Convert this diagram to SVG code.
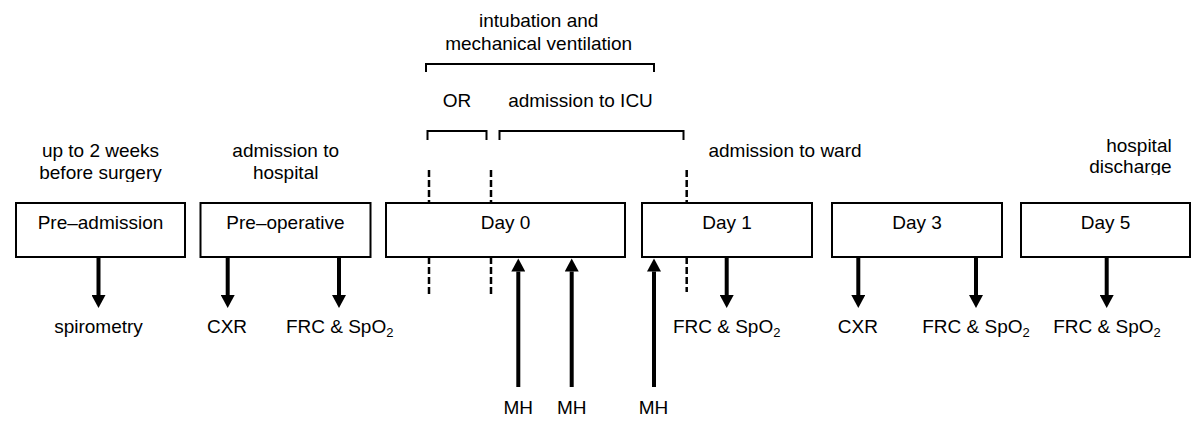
<svg xmlns="http://www.w3.org/2000/svg" width="1200" height="429" viewBox="0 0 1200 429">
<style>
text{font-family:"Liberation Sans",Arial,sans-serif;font-size:19px;fill:#000;text-anchor:middle}
.box{fill:#fff;stroke:#000;stroke-width:2}
.br{fill:none;stroke:#000;stroke-width:2}
.dash{stroke:#000;stroke-width:2.5;stroke-dasharray:7 3}
.arr{stroke:#000;stroke-width:4;fill:none;marker-end:url(#ah)}
.r{text-anchor:end}
</style>
<defs>
<marker id="ah" markerUnits="userSpaceOnUse" markerWidth="14" markerHeight="14" refX="0" refY="7" orient="auto" viewBox="0 0 14 14">
<path d="M0,0 L13,7 L0,14 z" fill="#000"/>
</marker>
<clipPath id="c1"><rect x="0" y="0" width="1200" height="182"/></clipPath>
<clipPath id="c2"><rect x="0" y="0" width="1200" height="175"/></clipPath>
</defs>

<g id="phase-labels">
<text x="538.7" y="27">intubation and</text>
<text x="538.7" y="50">mechanical ventilation</text>
<path class="br" d="M426,72 V64 H654 V72"/>
<text x="457" y="106.5">OR</text>
<text x="580.5" y="106.5">admission to ICU</text>
<path class="br" d="M427.5,140 V131 H486.5 V140"/>
<path class="br" d="M499.5,140 V131 H683.5 V140"/>
<text x="100.5" y="157.3">up to 2 weeks</text>
<text x="100.5" y="179.3" clip-path="url(#c1)">before surgery</text>
<text x="285.7" y="157.3">admission to</text>
<text x="285.7" y="179.3">hospital</text>
<text x="785" y="157.3">admission to ward</text>
<text class="r" x="1171.7" y="151.7">hospital</text>
<text class="r" x="1171.7" y="173.3" clip-path="url(#c2)">discharge</text>
</g>

<g id="markers">
<line class="dash" x1="429" y1="170" x2="429" y2="203"/>
<line class="dash" x1="491" y1="170" x2="491" y2="203"/>
<line class="dash" x1="686.7" y1="170" x2="686.7" y2="203"/>
<line class="dash" x1="429" y1="257" x2="429" y2="294"/>
<line class="dash" x1="491" y1="257" x2="491" y2="294"/>
<line class="dash" x1="686.7" y1="257" x2="686.7" y2="292"/>
</g>

<g id="node-preadmission">
<rect class="box" x="16" y="203" width="169" height="54"/>
<text x="100.5" y="228.5">Pre–admission</text>
</g>
<g id="node-preoperative">
<rect class="box" x="200.5" y="203" width="170" height="54"/>
<text x="285.5" y="228.5">Pre–operative</text>
</g>
<g id="node-day0">
<rect class="box" x="386" y="203" width="239" height="54"/>
<text x="505.5" y="228.5">Day 0</text>
</g>
<g id="node-day1">
<rect class="box" x="642" y="203" width="170" height="54"/>
<text x="727" y="228.5">Day 1</text>
</g>
<g id="node-day3">
<rect class="box" x="832" y="203" width="170" height="54"/>
<text x="917" y="228.5">Day 3</text>
</g>
<g id="node-day5">
<rect class="box" x="1021" y="203" width="169" height="54"/>
<text x="1105.5" y="228.5">Day 5</text>
</g>

<g id="connectors">
<line class="arr" x1="98.5" y1="258" x2="98.5" y2="295"/>
<line class="arr" x1="227.7" y1="258" x2="227.7" y2="295"/>
<line class="arr" x1="339" y1="258" x2="339" y2="295"/>
<line class="arr" x1="726.7" y1="258" x2="726.7" y2="295"/>
<line class="arr" x1="858.3" y1="258" x2="858.3" y2="295"/>
<line class="arr" x1="976" y1="258" x2="976" y2="295"/>
<line class="arr" x1="1106.7" y1="258" x2="1106.7" y2="295"/>
<line class="arr" x1="518.3" y1="387" x2="518.3" y2="271.5"/>
<line class="arr" x1="571.7" y1="387" x2="571.7" y2="271.5"/>
<line class="arr" x1="654" y1="387" x2="654" y2="271.5"/>
</g>

<g id="labels">
<text x="98.5" y="333.3">spirometry</text>
<text x="227" y="333.3">CXR</text>
<text x="339.7" y="333.3">FRC &amp; SpO<tspan font-size="13" dy="4">2</tspan></text>
<text x="726.7" y="333.3">FRC &amp; SpO<tspan font-size="13" dy="4">2</tspan></text>
<text x="857.8" y="333.3">CXR</text>
<text x="976" y="333.3">FRC &amp; SpO<tspan font-size="13" dy="4">2</tspan></text>
<text x="1107" y="333.3">FRC &amp; SpO<tspan font-size="13" dy="4">2</tspan></text>
<text x="518.3" y="414">MH</text>
<text x="571.8" y="414">MH</text>
<text x="653.5" y="414">MH</text>
</g>
</svg>
